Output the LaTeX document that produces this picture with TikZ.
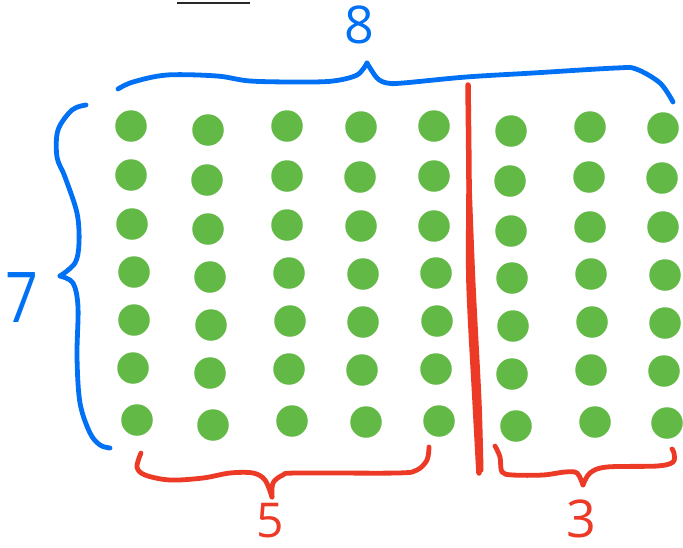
\documentclass[tikz,border=0pt]{standalone}
\usepackage{fontspec}
\newfontfamily\hand{Open Sans}
\definecolor{dotgreen}{RGB}{98,185,70}
\definecolor{penblue}{RGB}{0,113,245}
\definecolor{penred}{RGB}{236,58,38}
\definecolor{pengray}{RGB}{40,40,40}
\tikzset{
  dot/.style={circle, fill=dotgreen, draw=none, minimum size=31.5pt, inner sep=0pt},
  bluepen/.style={draw=penblue, line width=4.8pt, line cap=round, line join=round},
  redpen/.style={draw=penred, line width=4.8pt, line cap=round, line join=round},
  num/.style={inner sep=0pt, outer sep=0pt, anchor=base},
}
\begin{document}
\begin{tikzpicture}[x=1pt, y=-1pt]
\fill[white] (0,0) rectangle (683,547);
\useasboundingbox (0,0) rectangle (683,547);

% small dark line at the top
\draw[pengray, line width=2.7pt] (177,3) -- (250,3);

% dots: column by column
\foreach \r/\x/\y in {1/131/126, 2/131/175, 3/132/224, 4/134/272, 5/134/320, 6/133/368, 7/137/420}
  \node[dot] (d-1-\r) at (\x,\y) {};
\foreach \r/\x/\y in {1/208/130, 2/207/180, 3/208/229, 4/210/277, 5/211/325, 6/210/373, 7/213/425}
  \node[dot] (d-2-\r) at (\x,\y) {};
\foreach \r/\x/\y in {1/287/126, 2/287/176, 3/287/225, 4/289/273, 5/290/321, 6/289/369, 7/292/421}
  \node[dot] (d-3-\r) at (\x,\y) {};
\foreach \r/\x/\y in {1/361/127, 2/360/177, 3/361/226, 4/363/274, 5/363/322, 6/362/370, 7/366/422}
  \node[dot] (d-4-\r) at (\x,\y) {};
\foreach \r/\x/\y in {1/434/126, 2/434/176, 3/434/226, 4/436/273, 5/437/321, 6/436/369, 7/439/421}
  \node[dot] (d-5-\r) at (\x,\y) {};
\foreach \r/\x/\y in {1/511/131, 2/510/181, 3/511/231, 4/512/278, 5/513/326, 6/512/374, 7/516/426}
  \node[dot] (d-6-\r) at (\x,\y) {};
\foreach \r/\x/\y in {1/590/127, 2/589/177, 3/590/227, 4/591/274, 5/592/322, 6/591/370, 7/595/422}
  \node[dot] (d-7-\r) at (\x,\y) {};
\foreach \r/\x/\y in {1/663/128, 2/662/178, 3/663/227, 4/665/275, 5/665/323, 6/664/371, 7/667/423}
  \node[dot] (d-8-\r) at (\x,\y) {};

% top blue brace
\draw[bluepen] plot[smooth, tension=0.55] coordinates {(118,89) (133,82) (167,75) (217,76) (250,81) (300,82) (333,81) (357,75) (367,63)};
\draw[bluepen] plot[smooth, tension=0.55] coordinates {(367,63) (377,78) (387,83) (403,83) (466,77) (533,73) (616,68) (636,69) (660,83) (673,102)};

% left blue brace
\draw[bluepen] plot[smooth, tension=0.55] coordinates {(86,105) (72,110) (58,130) (57,157) (65,177) (77,213) (79,243) (75,263) (60,276)};
\draw[bluepen] plot[smooth, tension=0.55] coordinates {(60,276) (73,283) (78,307) (77,357) (80,403) (90,433) (100,445) (110,448)};

% red divider
\draw[redpen, line width=5.5pt] plot[smooth, tension=0.5] coordinates {(468,85) (469,180) (469,283) (475,400) (479,473)};
\draw[redpen, line width=5pt] plot[smooth, tension=0.5] coordinates {(469,180) (473,283) (479,400) (481,470)};

% bottom-left red brace
\draw[redpen] plot[smooth, tension=0.55] coordinates {(141,453) (137,467) (145,475) (170,480) (203,478) (230,473) (253,473) (265,480) (272,497)};
\draw[redpen] plot[smooth, tension=0.55] coordinates {(272,497) (273,483) (283,475) (297,473) (397,473) (417,470) (427,460) (429,447)};

% bottom-right red brace
\draw[redpen] plot[smooth, tension=0.55] coordinates {(495,446) (500,457) (502,472) (513,475) (543,475) (565,472) (577,473) (583,485)};
\draw[redpen] plot[smooth, tension=0.55] coordinates {(583,485) (590,473) (607,467) (657,466) (673,462) (674,453) (672,449)};

% numbers
\node[num, text=penblue, font=\hand\fontsize{52}{52}\selectfont] (eight) at (359.5,43) {8};
\node[num, text=penblue, font=\hand\fontsize{70}{70}\selectfont] (seven) at (22,322) {\scalebox{0.82}[1]{7}};
\node[num, text=penred, font=\hand\fontsize{48}{48}\selectfont] (five) at (270.5,537) {5};
\node[num, text=penred, font=\hand\fontsize{52}{52}\selectfont] (three) at (581,537) {3};
\end{tikzpicture}
\end{document}
